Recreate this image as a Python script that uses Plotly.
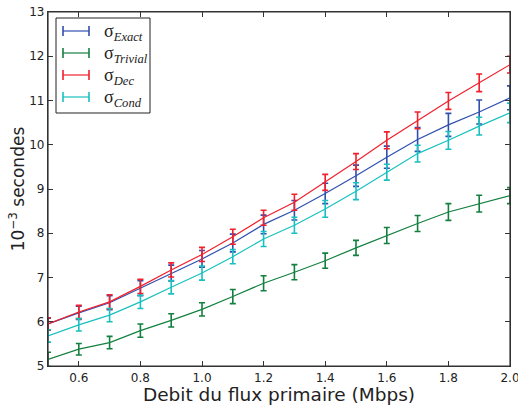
import plotly.graph_objects as go

debit = [0.5, 0.6, 0.7, 0.8, 0.9, 1.0, 1.1, 1.2, 1.3, 1.4, 1.5, 1.6, 1.7, 1.8, 1.9, 2.0]

exact = [5.95, 6.20, 6.43, 6.76, 7.10, 7.42, 7.78, 8.20, 8.52, 8.90, 9.30, 9.72, 10.12, 10.45, 10.74, 11.06]
exact_err = [0.13, 0.15, 0.16, 0.17, 0.18, 0.19, 0.20, 0.21, 0.22, 0.23, 0.24, 0.25, 0.27, 0.26, 0.27, 0.27]

trivial = [5.15, 5.38, 5.53, 5.80, 6.03, 6.28, 6.57, 6.87, 7.12, 7.38, 7.67, 7.95, 8.22, 8.48, 8.67, 8.85]
trivial_err = [0.16, 0.13, 0.14, 0.15, 0.15, 0.15, 0.16, 0.17, 0.17, 0.17, 0.17, 0.18, 0.18, 0.19, 0.19, 0.18]

dec = [5.95, 6.22, 6.45, 6.80, 7.17, 7.52, 7.92, 8.35, 8.70, 9.15, 9.62, 10.10, 10.55, 10.99, 11.40, 11.81]
dec_err = [0.14, 0.15, 0.16, 0.16, 0.16, 0.16, 0.17, 0.17, 0.18, 0.18, 0.18, 0.19, 0.19, 0.19, 0.20, 0.19]

cond = [5.68, 5.93, 6.15, 6.45, 6.78, 7.10, 7.47, 7.87, 8.18, 8.55, 8.95, 9.38, 9.80, 10.10, 10.42, 10.72]
cond_err = [0.14, 0.14, 0.15, 0.15, 0.15, 0.16, 0.16, 0.17, 0.18, 0.19, 0.19, 0.18, 0.19, 0.20, 0.20, 0.22]

x_ticks = [0.6, 0.8, 1.0, 1.2, 1.4, 1.6, 1.8, 2.0]
x_ticktext = ["0.6", "0.8", "1.0", "1.2", "1.4", "1.6", "1.8", "2.0"]

names = ["Exact", "Trivial", "Dec", "Cond"]
colors = ["#3050b0", "#148040", "#f0202c", "#18c0c0"]
series = [exact, trivial, dec, cond]
errors = [exact_err, trivial_err, dec_err, cond_err]

fig = go.Figure()
for name, col, ys, es in zip(names, colors, series, errors):
    fig.add_trace(go.Scatter(
        x=debit, y=ys, mode="lines", name=name,
        line=dict(color=col, width=1.2),
        error_y=dict(type="data", array=es, visible=True, color=col, thickness=1.6, width=3),
        showlegend=False, cliponaxis=False,
    ))

W, H = 518, 412
# plot area in page pixels
L, R, T, B = 48, 510, 12, 366

def px(xp):
    return (xp - L) / (R - L)
def py(yp):
    return 1 - (yp - T) / (B - T)

AX = "#333333"
shapes = [dict(type="rect", xref="paper", yref="paper", x0=0, x1=1, y0=0, y1=1,
               line=dict(color=AX, width=1.2), layer="above"),
          dict(type="rect", xref="paper", yref="paper",
               x0=px(56), x1=px(150), y0=py(113), y1=py(18),
               line=dict(color="#222222", width=1), fillcolor="white", layer="above")]
annotations = []
rows = [31, 53, 75, 97]
for name, col, r in zip(names, colors, rows):
    shapes.append(dict(type="line", xref="paper", yref="paper",
                       x0=px(63), x1=px(89), y0=py(r), y1=py(r),
                       line=dict(color=col, width=1.2), layer="above"))
    for xx in (63, 89):
        shapes.append(dict(type="line", xref="paper", yref="paper",
                           x0=px(xx), x1=px(xx), y0=py(r - 5), y1=py(r + 5),
                           line=dict(color=col, width=1.6), layer="above"))
    annotations.append(dict(xref="paper", yref="paper", x=px(102), y=py(r + 1),
                            xanchor="left", yanchor="middle", showarrow=False,
                            text="σ<sub><i>%s</i></sub>" % name,
                            font=dict(family="Liberation Serif", size=18, color="#222222")))

fig.update_layout(
    width=W, height=H,
    margin=dict(l=L, r=W - R, t=T, b=H - B, autoexpand=False),
    paper_bgcolor="white", plot_bgcolor="white",
    font=dict(family="DejaVu Sans", color="#222222"),
    shapes=shapes, annotations=annotations,
    xaxis=dict(range=[0.5, 2.0], tickvals=x_ticks, ticktext=x_ticktext,
               ticks="inside", ticklen=5, tickcolor=AX, tickwidth=1, mirror="allticks",
               showline=True, linecolor=AX, linewidth=1.2, showgrid=False, zeroline=False,
               tickfont=dict(size=12), automargin=False, ticklabeloverflow="allow",
               title=dict(text="Debit du flux primaire (Mbps)", font=dict(size=18.5), standoff=3)),
    yaxis=dict(range=[5, 13], dtick=1, ticks="inside", ticklen=5, tickcolor=AX, tickwidth=1,
               mirror="allticks", showline=True, linecolor=AX, linewidth=1.2,
               showgrid=False, zeroline=False, tickfont=dict(size=12), automargin=False,
               ticklabeloverflow="allow",
               title=dict(text="10<sup>−3</sup> secondes", font=dict(size=17), standoff=0)),
)

fig.write_html("out.html", config={"displayModeBar": False},
               post_script="document.body.style.margin='0';")
